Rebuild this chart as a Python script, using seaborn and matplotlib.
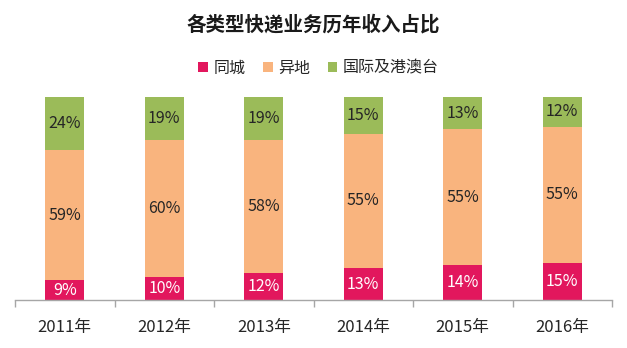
import matplotlib
matplotlib.use("Agg")
import matplotlib.pyplot as plt
import seaborn as sns
import pandas as pd
import numpy as np
from matplotlib.patches import Patch

years = ["2011年", "2012年", "2013年", "2014年", "2015年", "2016年"]
series_names = ["同城", "异地", "国际及港澳台"]
tongcheng = [9, 10, 12, 13, 14, 15]
yidi = [59, 60, 58, 55, 55, 55]
guoji = [24, 19, 19, 15, 13, 12]
colors = ["#E2175D", "#F9B47E", "#9BBB59"]
label_colors = ["white", "#262626", "#262626"]

sns.set_theme(style="white")
plt.rcParams['font.family'] = ['Noto Sans CJK SC', 'DejaVu Sans']

values = np.array([tongcheng, yidi, guoji], dtype=float)
totals = values.sum(axis=0)
shares = values / totals

fig = plt.figure(figsize=(6.27, 3.48), dpi=100)
ax = fig.add_axes([15 / 627, 48 / 348, 597 / 627, 203 / 348])

bottom = np.zeros(len(years))
for i, name in enumerate(series_names):
    df = pd.DataFrame({"year": years, "share": shares[i]})
    sns.barplot(data=df, x="year", y="share", bottom=bottom, color=colors[i],
                width=0.39, ax=ax, saturation=1, linewidth=0, order=years)
    for j in range(len(years)):
        ax.text(j, bottom[j] + shares[i][j] / 2, f"{int(values[i][j])}%",
                ha="center", va="center", fontsize=11.5, color=label_colors[i])
    bottom = bottom + shares[i]

ax.set_xlim(-0.5, len(years) - 0.5)
ax.set_ylim(0, 1.0)
ax.set_xlabel("")
ax.set_ylabel("")
ax.set_yticks([])
for s in ["top", "right", "left"]:
    ax.spines[s].set_visible(False)
ax.spines["bottom"].set_color("#A6A6A6")
ax.spines["bottom"].set_linewidth(1)
ax.set_xticks(np.arange(-0.5, len(years)), minor=True)
ax.tick_params(axis="x", which="minor", length=5, color="#A6A6A6", width=1, direction="out", bottom=True)
ax.tick_params(axis="x", which="major", length=0, labelsize=12, labelcolor="#262626", pad=14)

fig.text(0.5, 1 - 25 / 348, "各类型快递业务历年收入占比", ha="center", va="center",
         fontsize=14, fontweight="bold", color="#1a1a1a")

handles = [Patch(facecolor=c, edgecolor="none") for c in colors]
fig.legend(handles, series_names, loc="center", bbox_to_anchor=(0.508, 1 - 68 / 348),
           ncol=3, frameon=False, handlelength=0.6, handleheight=0.6,
           handletextpad=0.35, columnspacing=1.1, fontsize=11.5,
           labelcolor="#262626")

fig.savefig("out.png", dpi=100, facecolor="white")
